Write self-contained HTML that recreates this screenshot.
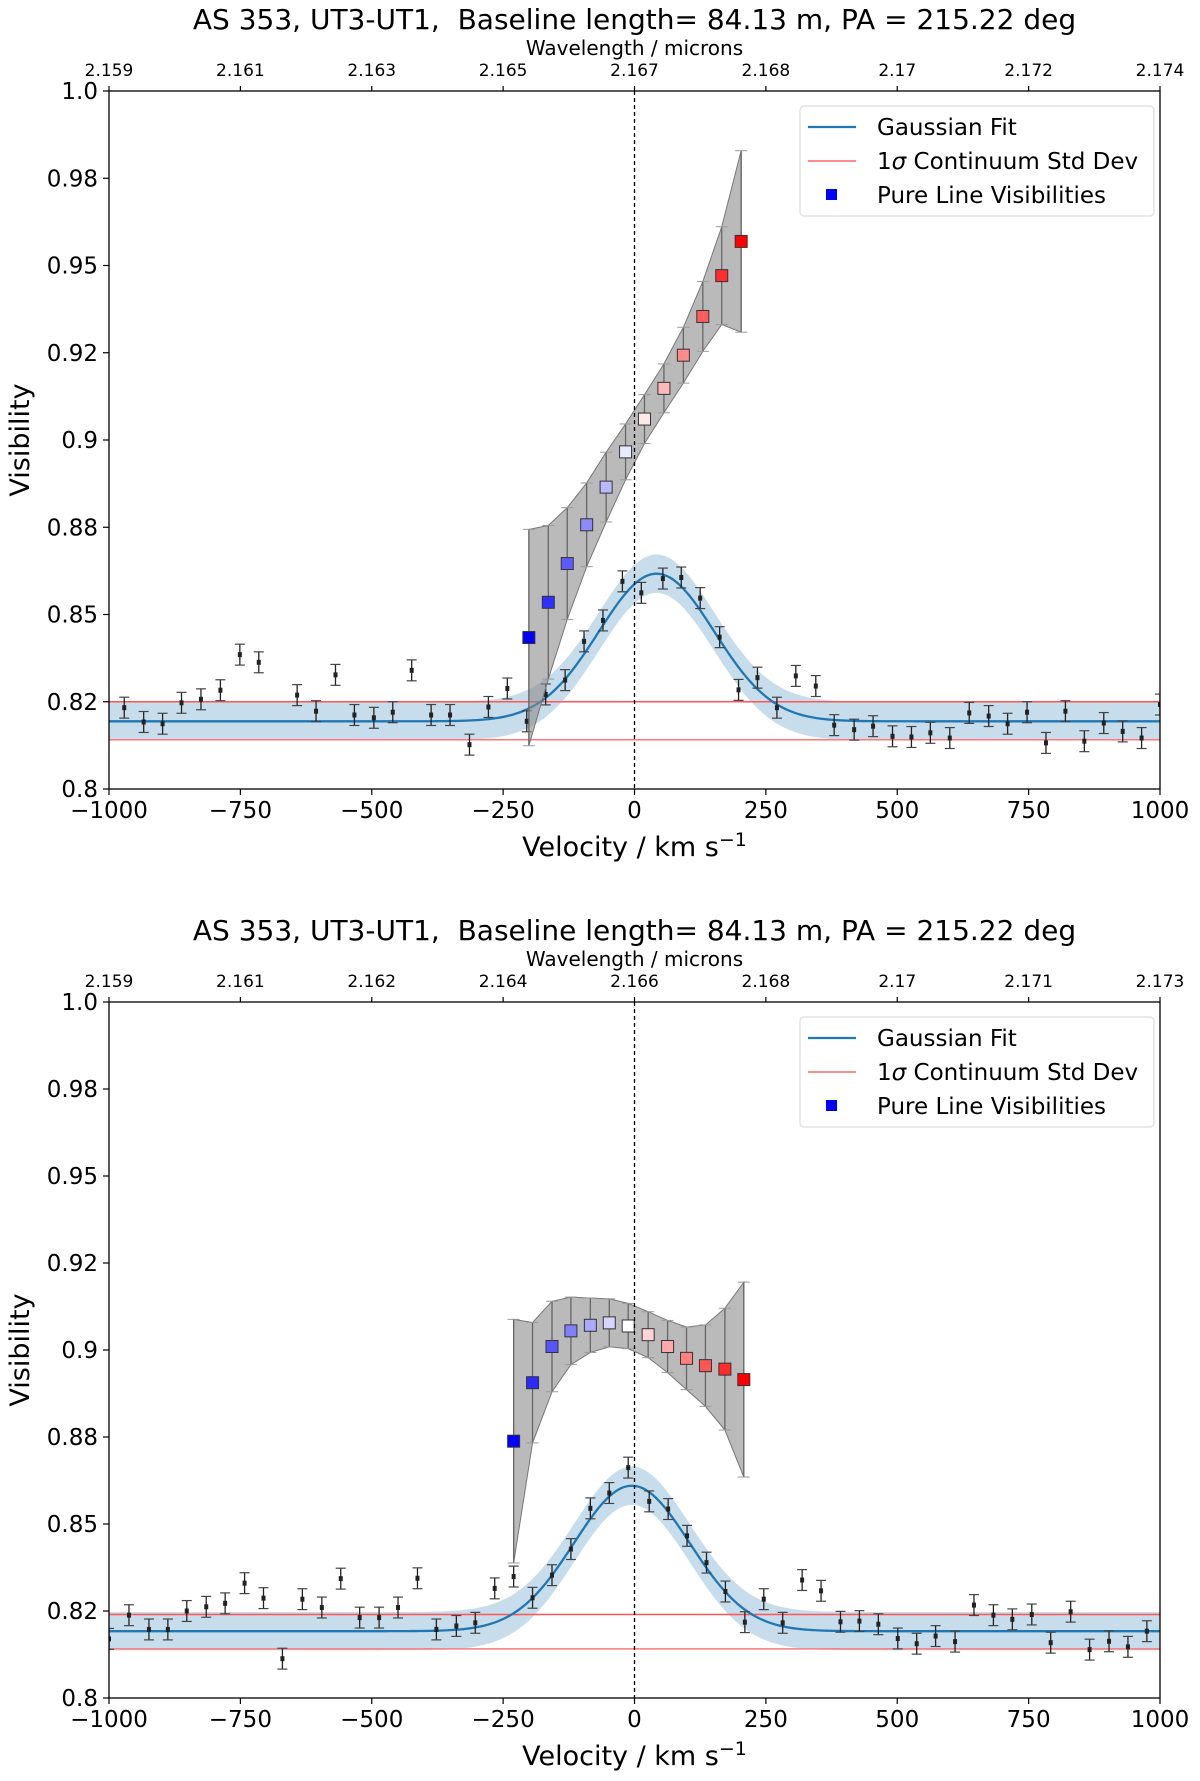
<!DOCTYPE html>
<html><head><meta charset="utf-8"><style>
body{margin:0;background:#fff}
svg{display:block;font-family:"DejaVu Sans","Liberation Sans",sans-serif}
</style></head><body>
<svg id="fig" width="1200" height="1781" viewBox="0 0 1200 1781" xmlns="http://www.w3.org/2000/svg"></svg>
<script>
// ---- data: top panel ----
const topVel=[-971,-934,-898,-862,-825,-788,-751,-715,-642,-606,-569,-533,-496,-460,-424,-387,-351,-314,-278,-242,-205,-169,-132,-96,-60,-23,13,54,89,125,162,198,234,271,307,345,380,418,454,491,527,563,600,637,674,710,747,783,820,856,893,929,965,1000];
const topVis=[0.8233,0.8192,0.8187,0.8247,0.8257,0.8283,0.8385,0.8363,0.8269,0.8223,0.8327,0.8212,0.8204,0.8220,0.8340,0.8212,0.8212,0.8127,0.8235,0.8288,0.8194,0.8271,0.8312,0.8423,0.8483,0.8595,0.8562,0.8603,0.8606,0.8547,0.8435,0.8284,0.8319,0.8233,0.8324,0.8295,0.8183,0.8170,0.8180,0.8151,0.8149,0.8161,0.8146,0.8218,0.8209,0.8187,0.8220,0.8132,0.8223,0.8137,0.8189,0.8165,0.8146,0.8242];
const topLineVel=[-201,-164,-128,-91,-54,-17,19,56,93,130,166,203];
const topLineVis=[0.8434,0.8535,0.8646,0.8757,0.8865,0.8966,0.9060,0.9148,0.9243,0.9354,0.9471,0.9569];
const topLineErr=[0.031,0.022,0.016,0.012,0.010,0.008,0.007,0.007,0.008,0.010,0.014,0.026];
const topGauss=[0.8194,0.0423,42,110]; // continuum, amplitude, centre, sigma
const topStd=[0.825,0.8141];
const topWave=["2.159","2.161","2.163","2.165","2.167","2.168","2.17","2.172","2.174"];
// ---- data: bottom panel ----
const botVel=[-1000,-962,-924,-888,-852,-815,-779,-742,-706,-670,-632,-595,-559,-523,-486,-450,-413,-377,-339,-303,-266,-230,-194,-157,-121,-84,-48,-12,28,64,100,137,173,210,246,282,319,355,392,428,464,501,537,573,610,646,683,719,756,792,830,866,903,939,975];
const botVis=[0.8170,0.8238,0.8197,0.8197,0.8250,0.8262,0.8272,0.8330,0.8287,0.8113,0.8284,0.8260,0.8343,0.8231,0.8231,0.8260,0.8344,0.8197,0.8207,0.8216,0.8315,0.8349,0.8288,0.8353,0.8428,0.8545,0.8589,0.8662,0.8565,0.8543,0.8466,0.8389,0.8306,0.8218,0.8284,0.8216,0.8339,0.8308,0.8219,0.8221,0.8212,0.8171,0.8156,0.8178,0.8162,0.8267,0.8238,0.8226,0.8240,0.8159,0.8248,0.8139,0.8163,0.8147,0.8192];
const botLineVel=[-230,-194,-157,-121,-84,-48,-12,26,63,99,135,172,208];
const botLineVis=[0.8738,0.8906,0.9010,0.9055,0.9071,0.9078,0.9069,0.9044,0.9010,0.8976,0.8955,0.8945,0.8915];
const botLineErr=[0.035,0.0173,0.0130,0.0097,0.0078,0.0069,0.0065,0.0066,0.0075,0.0090,0.0117,0.0175,0.0280];
const botGauss=[0.8192,0.0418,-5,110];
const botStd=[0.824,0.8141];
const botWave=["2.159","2.161","2.162","2.164","2.166","2.168","2.17","2.171","2.173"];
const velTicks=[-1000,-750,-500,-250,0,250,500,750,1000];
const velTickLabels=["\u22121000","\u2212750","\u2212500","\u2212250","0","250","500","750","1000"];
const visTicks=[0.8,0.825,0.85,0.875,0.9,0.925,0.95,0.975,1.0];
const visTickLabels=["0.8","0.82","0.85","0.88","0.9","0.92","0.95","0.98","1.0"];
const ptErr=0.003;

const NS="http://www.w3.org/2000/svg";
const svg=document.getElementById('fig');
function mk(tag,parent,attrs){const e=document.createElementNS(NS,tag);for(const k in attrs)e.setAttribute(k,attrs[k]);parent.appendChild(e);return e;}

function panel(cfg){
  const L=109,R=1160,T=cfg.top,B=cfg.bottom;
  const C=(L+R)/2;
  const g=mk('g',svg,{});
  
  
  const xs=v=>L+(v+1000)/2000*(R-L);
  const ys=v=>B-(v-0.8)/0.2*(B-T);
  const clip=mk('clipPath',g,{id:cfg.name+'-clip'});
  mk('rect',clip,{x:L,y:T,width:R-L,height:B-T});
  const pg=mk('g',g,{'clip-path':'url(#'+cfg.name+'-clip)'});
  const gp=cfg.gauss;
  const gf=v=>gp[0]+gp[1]*Math.exp(-0.5*Math.pow((v-gp[2])/gp[3],2));
  let up=[],lo=[],ln=[];
  for(let v=-1000;v<=1000;v+=5){up.push(xs(v)+','+ys(gf(v)+0.0055));lo.unshift(xs(v)+','+ys(gf(v)-0.0055));ln.push(xs(v)+','+ys(gf(v)));}
  const band=mk('polygon',pg,{points:up.concat(lo).join(' '),fill:'#1f77b4','fill-opacity':0.25});
  
  
  const s1=mk('line',pg,{x1:L,x2:R,y1:ys(cfg.std[0]),y2:ys(cfg.std[0]),stroke:'#ff5555','stroke-width':1.5});
  
  
  const s2=mk('line',pg,{x1:L,x2:R,y1:ys(cfg.std[1]),y2:ys(cfg.std[1]),stroke:'#ff7777','stroke-width':1.5});
  
  
  const gl=mk('polyline',pg,{points:ln.join(' '),fill:'none',stroke:'#1f77b4','stroke-width':2.3});
  
  
  for(let i=0;i<cfg.vel.length;i++){
    const x=xs(cfg.vel[i]),y=ys(cfg.vis[i]),y1=ys(cfg.vis[i]+ptErr),y2=ys(cfg.vis[i]-ptErr);
    const eg=mk('g',pg,{});
    
    
    mk('line',eg,{x1:x,x2:x,y1:y1,y2:y2,stroke:'#222','stroke-width':1.3});
    mk('line',eg,{x1:x-5,x2:x+5,y1:y1,y2:y1,stroke:'#444','stroke-width':1.2});
    mk('line',eg,{x1:x-5,x2:x+5,y1:y2,y2:y2,stroke:'#444','stroke-width':1.2});
    mk('rect',eg,{x:x-2,y:y-2.5,width:4,height:5,fill:'#222'});
  }
  const lv=cfg.lvel,lvis=cfg.lvis,le=cfg.lerr;
  let bu=[],bl=[];
  for(let i=0;i<lv.length;i++){bu.push(xs(lv[i])+','+ys(lvis[i]+le[i]));bl.unshift(xs(lv[i])+','+ys(lvis[i]-le[i]));}
  const pb=mk('polygon',pg,{points:bu.concat(bl).join(' '),fill:'#8c8c8c','fill-opacity':0.6,stroke:'#777','stroke-width':1});
  
  
  for(let i=0;i<lv.length;i++){
    const x=xs(lv[i]),a=ys(lvis[i]+le[i]),b=ys(lvis[i]-le[i]);
    const eb=mk('g',pg,{});
    
    
    mk('line',eb,{x1:x,x2:x,y1:a,y2:b,stroke:'#666','stroke-width':1.3});
    mk('line',eb,{x1:x-6,x2:x+6,y1:a,y2:a,stroke:'#999','stroke-width':1});
    mk('line',eb,{x1:x-6,x2:x+6,y1:b,y2:b,stroke:'#999','stroke-width':1});
  }
  const n=lv.length;
  for(let i=0;i<n;i++){
    const t=i/(n-1);let r,gg,bb;
    if(t<0.5){const f=t/0.5;r=Math.round(255*f);gg=r;bb=255;}else{const f=(t-0.5)/0.5;r=255;gg=Math.round(255*(1-f));bb=gg;}
    const sq=mk('rect',pg,{x:xs(lv[i])-6,y:ys(lvis[i])-6,width:12,height:12,fill:`rgb(${r},${gg},${bb})`,stroke:'#333','stroke-width':1});
    
    
  }
  const zl=mk('line',g,{x1:xs(0),x2:xs(0),y1:T,y2:B,stroke:'#000','stroke-width':1.3,'stroke-dasharray':'4,3'});
  
  
  const fr=mk('rect',g,{x:L,y:T,width:R-L,height:B-T,fill:'none',stroke:'#000','stroke-width':1.3});
  
  
  for(let i=0;i<velTicks.length;i++){
    const x=xs(velTicks[i]);
    mk('line',g,{x1:x,x2:x,y1:B,y2:B+6,stroke:'#000','stroke-width':1.2});
    const t=mk('text',g,{x:x,y:B+29,'font-size':23,'text-anchor':'middle'});t.textContent=velTickLabels[i];
    
    
    mk('line',g,{x1:x,x2:x,y1:T,y2:T-5,stroke:'#000','stroke-width':1.2});
    const w=mk('text',g,{x:x,y:T-15,'font-size':17,'text-anchor':'middle'});w.textContent=cfg.wave[i];
    
    
  }
  for(let i=0;i<visTicks.length;i++){
    const y=ys(visTicks[i]);
    mk('line',g,{x1:L,x2:L-6,y1:y,y2:y,stroke:'#000','stroke-width':1.2});
    const t=mk('text',g,{x:L-11,y:y+8,'font-size':23,'text-anchor':'end'});t.textContent=visTickLabels[i];
    
    
  }
  const ti=mk('text',g,{x:C,y:T-62,'font-size':28,'text-anchor':'middle'});ti.textContent='AS 353, UT3-UT1,\u00a0 Baseline length= 84.13 m, PA = 215.22 deg';
  
  
  const wl=mk('text',g,{x:C,y:T-36,'font-size':20,'text-anchor':'middle'});wl.textContent='Wavelength / microns';
  
  
  const xl=mk('text',g,{x:C,y:B+67,'font-size':27,'text-anchor':'middle'});xl.innerHTML='Velocity / km s<tspan dy="-10" font-size="19">\u22121</tspan>';
  
  
  const yl=mk('text',g,{x:0,y:0,'font-size':27,'text-anchor':'middle',transform:`translate(29,${(T+B)/2}) rotate(-90)`});yl.textContent='Visibility';
  
  
  const lg=mk('g',g,{});
  
  
  const ly=T+15, lx=800;
  mk('rect',lg,{x:lx,y:ly,width:354,height:110,rx:4,fill:'#fff','fill-opacity':0.85,stroke:'#ddd','stroke-width':1.2});
  mk('line',lg,{x1:lx+8,x2:lx+56,y1:ly+21,y2:ly+21,stroke:'#1f77b4','stroke-width':2.3});
  mk('line',lg,{x1:lx+8,x2:lx+56,y1:ly+55,y2:ly+55,stroke:'#ff6666','stroke-width':1.5});
  mk('rect',lg,{x:lx+26,y:ly+83,width:11,height:11,fill:'#0000ff'});
  const labs=['Gaussian Fit','1\u03c3 Continuum Std Dev','Pure Line Visibilities'];
  for(let i=0;i<3;i++){
    const t=mk('text',lg,{x:lx+77,y:ly+29+i*34,'font-size':23});
    if(i==1){t.innerHTML='1<tspan font-style="italic">\u03c3</tspan> Continuum Std Dev';}else t.textContent=labs[i];
    
    
  }
}
panel({name:'top-panel',top:91,bottom:789,vel:topVel,vis:topVis,lvel:topLineVel,lvis:topLineVis,lerr:topLineErr,gauss:topGauss,std:topStd,wave:topWave});
panel({name:'bottom-panel',top:1002,bottom:1698,vel:botVel,vis:botVis,lvel:botLineVel,lvis:botLineVis,lerr:botLineErr,gauss:botGauss,std:botStd,wave:botWave});
</script>
</body></html>
